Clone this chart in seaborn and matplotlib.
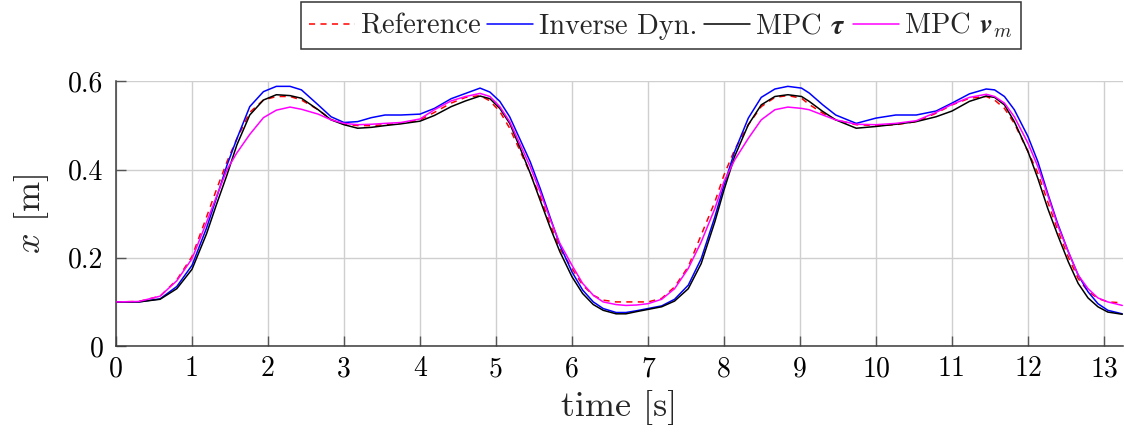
import matplotlib
matplotlib.use("Agg")
import matplotlib.pyplot as plt
import seaborn as sns
import pandas as pd

# time samples [s]
time_s = [0.00, 0.30, 0.58, 0.80, 1.00, 1.19, 1.32, 1.46, 1.59, 1.76, 1.94, 2.11,
          2.29, 2.44, 2.66, 2.83, 3.00, 3.18, 3.36, 3.54, 3.75, 4.00, 4.19, 4.41,
          4.60, 4.79, 4.92, 5.05, 5.18, 5.31, 5.45, 5.58, 5.71, 5.84, 6.00, 6.14,
          6.28, 6.41, 6.58, 6.71, 6.85, 7.00, 7.18, 7.35, 7.53, 7.70, 7.88, 8.00,
          8.14, 8.32, 8.49, 8.67, 8.84, 9.02, 9.12, 9.30, 9.47, 9.74, 10.00, 10.26,
          10.53, 10.79, 11.00, 11.23, 11.45, 11.56, 11.69, 11.82, 12.00, 12.13, 12.26,
          12.39, 12.53, 12.66, 12.79, 12.92, 13.05, 13.24]

# position x [m]
reference = [0.100, 0.101, 0.113, 0.150, 0.203, 0.292, 0.354, 0.418, 0.470, 0.530, 0.558, 0.566,
             0.566, 0.558, 0.536, 0.514, 0.503, 0.500, 0.500, 0.502, 0.505, 0.513, 0.530, 0.551,
             0.564, 0.568, 0.556, 0.532, 0.494, 0.445, 0.392, 0.339, 0.278, 0.221, 0.176, 0.138,
             0.115, 0.104, 0.100, 0.100, 0.100, 0.100, 0.108, 0.134, 0.180, 0.252, 0.327, 0.388,
             0.445, 0.502, 0.543, 0.564, 0.568, 0.562, 0.548, 0.528, 0.513, 0.502, 0.500, 0.502,
             0.509, 0.528, 0.547, 0.562, 0.566, 0.558, 0.539, 0.505, 0.441, 0.392, 0.327,
             0.263, 0.202, 0.153, 0.124, 0.108, 0.100, 0.098]

inverse_dyn = [0.100, 0.100, 0.107, 0.135, 0.183, 0.267, 0.335, 0.410, 0.470, 0.543, 0.577, 0.589,
               0.589, 0.581, 0.547, 0.520, 0.507, 0.509, 0.518, 0.524, 0.524, 0.526, 0.539, 0.561,
               0.573, 0.585, 0.576, 0.555, 0.520, 0.471, 0.418, 0.358, 0.293, 0.229, 0.168, 0.127,
               0.100, 0.085, 0.076, 0.076, 0.080, 0.085, 0.091, 0.106, 0.138, 0.198, 0.293, 0.365,
               0.441, 0.517, 0.564, 0.583, 0.589, 0.585, 0.574, 0.547, 0.524, 0.505, 0.517, 0.524,
               0.524, 0.533, 0.551, 0.572, 0.583, 0.581, 0.566, 0.536, 0.475, 0.418, 0.346,
               0.278, 0.214, 0.161, 0.123, 0.096, 0.081, 0.073]

mpc_tau = [0.100, 0.100, 0.106, 0.130, 0.174, 0.254, 0.320, 0.388, 0.456, 0.524, 0.558, 0.570,
           0.568, 0.562, 0.536, 0.513, 0.502, 0.494, 0.496, 0.500, 0.504, 0.510, 0.523, 0.543,
           0.556, 0.567, 0.561, 0.539, 0.505, 0.452, 0.392, 0.331, 0.270, 0.214, 0.157, 0.119,
           0.094, 0.081, 0.073, 0.073, 0.078, 0.083, 0.089, 0.102, 0.130, 0.187, 0.282, 0.354,
           0.430, 0.502, 0.547, 0.566, 0.570, 0.566, 0.555, 0.532, 0.513, 0.494, 0.498, 0.503,
           0.509, 0.520, 0.533, 0.555, 0.567, 0.564, 0.547, 0.509, 0.441, 0.380, 0.312,
           0.252, 0.191, 0.142, 0.109, 0.089, 0.077, 0.072]

mpc_vm = [0.100, 0.101, 0.113, 0.148, 0.198, 0.280, 0.338, 0.400, 0.438, 0.480, 0.518, 0.535,
          0.542, 0.537, 0.526, 0.513, 0.505, 0.502, 0.503, 0.505, 0.507, 0.515, 0.536, 0.556,
          0.566, 0.573, 0.566, 0.543, 0.509, 0.460, 0.407, 0.350, 0.289, 0.233, 0.183, 0.142,
          0.115, 0.100, 0.094, 0.092, 0.093, 0.096, 0.106, 0.130, 0.176, 0.236, 0.312, 0.373,
          0.422, 0.471, 0.513, 0.536, 0.542, 0.539, 0.536, 0.524, 0.513, 0.503, 0.502, 0.505,
          0.511, 0.530, 0.548, 0.564, 0.571, 0.566, 0.551, 0.520, 0.460, 0.407, 0.342,
          0.274, 0.214, 0.161, 0.130, 0.109, 0.100, 0.092]

series_labels = ["Reference", "Inverse Dyn.", r"MPC $\mathbfit{\tau}$", r"MPC $\mathbfit{v}_m$"]
x_ticks = list(range(0, 14))
y_ticks = [0.0, 0.2, 0.4, 0.6]
y_tick_labels = ["0", "0.2", "0.4", "0.6"]

sns.set_style("whitegrid")
plt.rcParams.update({
    "font.family": "serif",
    "font.serif": ["cmr10"],
    "mathtext.fontset": "cm",
    "axes.formatter.use_mathtext": True,
    "axes.unicode_minus": False,
})

df = pd.DataFrame({"t": time_s, "ref": reference, "inv": inverse_dyn,
                   "tau": mpc_tau, "vm": mpc_vm})

fig = plt.figure(figsize=(11.24, 4.36), dpi=100)
ax = fig.add_axes([116 / 1124, 1 - 346 / 436, (1123 - 116) / 1124, (346 - 81.5) / 436])

styles = [
    ("ref", "#ff0000", (0, (4, 3.5))),
    ("inv", "#0000ff", "-"),
    ("tau", "#000000", "-"),
    ("vm", "#ff00ff", "-"),
]
for (col, color, ls), lab in zip(styles, series_labels):
    sns.lineplot(data=df, x="t", y=col, ax=ax, color=color, linestyle=ls,
                 linewidth=1.1, label=lab, zorder=3)

ax.get_legend().remove()

ax.set_xlim(0, 13.25)
ax.set_ylim(0, 0.6)
ax.set_xticks(x_ticks)
ax.set_xticklabels([str(v) for v in x_ticks])
ax.set_yticks(y_ticks)
ax.set_yticklabels(y_tick_labels)

ax.grid(True, color="#cfcfcf", linewidth=1.0)
ax.set_axisbelow(True)
for side in ("top", "right"):
    ax.spines[side].set_visible(False)
for side in ("left", "bottom"):
    ax.spines[side].set_visible(True)
    ax.spines[side].set_color("#3a3a3a")
    ax.spines[side].set_linewidth(1.1)

ax.tick_params(axis="both", which="major", direction="in", length=7, width=1.0,
               color="#555555", labelsize=20, labelcolor="black")
ax.tick_params(axis="x", pad=7, bottom=True)
ax.tick_params(axis="y", pad=9, left=True)

ax.set_xlabel("time [s]", fontsize=26, labelpad=6)
ax.set_ylabel("$x$ [m]", fontsize=26, labelpad=12)

handles, _ = ax.get_legend_handles_labels()
leg = fig.legend(handles, series_labels, loc="upper center", ncol=4,
                 bbox_to_anchor=(661 / 1124, 1 - 2 / 436), bbox_transform=fig.transFigure,
                 fontsize=20.5, frameon=True, fancybox=False, framealpha=1,
                 edgecolor="#333333", handlelength=1.6, handletextpad=0.2,
                 columnspacing=0.25, borderpad=0.3, borderaxespad=0)
leg.get_frame().set_linewidth(1.1)

fig.savefig("out.png", dpi=100)
